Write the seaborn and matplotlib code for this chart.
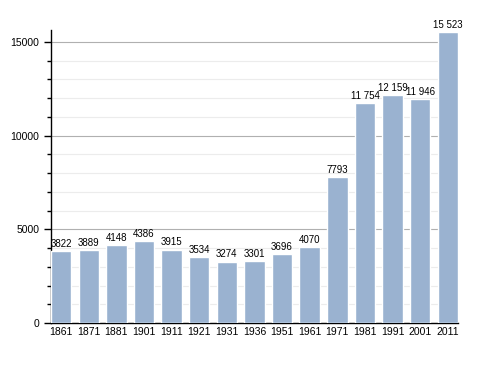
import matplotlib
matplotlib.use("Agg")
import matplotlib.pyplot as plt
from matplotlib.ticker import MultipleLocator
import pandas as pd
import seaborn as sns

# données de population par année de recensement
annees = ["1861", "1871", "1881", "1901", "1911", "1921", "1931", "1936",
          "1951", "1961", "1971", "1981", "1991", "2001", "2011"]
population = [3822, 3889, 4148, 4386, 3915, 3534, 3274, 3301,
              3696, 4070, 7793, 11754, 12159, 11946, 15523]
etiquettes = ["3822", "3889", "4148", "4386", "3915", "3534", "3274", "3301",
              "3696", "4070", "7793", "11 754", "12 159", "11 946", "15 523"]

df = pd.DataFrame({"annee": annees, "population": population})

sns.set_style("white")
plt.rcParams["font.family"] = ["Liberation Sans", "DejaVu Sans"]
plt.rcParams["text.color"] = "black"
plt.rcParams["xtick.color"] = "black"
plt.rcParams["ytick.color"] = "black"

fig = plt.figure(figsize=(4.88, 3.73), dpi=100)
ax = fig.add_axes([0.1045, 0.134, 0.834, 0.786])

sns.barplot(data=df, x="annee", y="population", color="#9ab2d0",
            width=0.74, saturation=1, ax=ax, zorder=3)

# grille: majeure tous les 5000, mineure tous les 1000
ax.yaxis.set_major_locator(MultipleLocator(5000))
ax.yaxis.set_minor_locator(MultipleLocator(1000))
ax.grid(axis="y", which="major", color="#b0b0b0", linewidth=0.8, zorder=0)
ax.grid(axis="y", which="minor", color="#ececec", linewidth=0.8, zorder=0)
ax.set_axisbelow(True)

ax.set_ylim(0, 15650)
ax.set_xlim(-0.37, 14.37)

for i, txt in enumerate(etiquettes):
    ax.text(i, population[i] + 120, txt, ha="center", va="bottom",
            fontsize=7, color="black", zorder=4)

ax.set_xlabel("")
ax.set_ylabel("")
ax.tick_params(axis="x", length=0, labelsize=7.5, pad=3, labelcolor="black")
ax.tick_params(axis="y", which="major", length=5, width=1, labelsize=7.5,
               direction="out", left=True, labelcolor="black")
ax.tick_params(axis="y", which="minor", length=3, width=1, direction="out", left=True)

for s in ["top", "right"]:
    ax.spines[s].set_visible(False)
for s in ["left", "bottom"]:
    ax.spines[s].set_color("black")
    ax.spines[s].set_linewidth(1)

fig.savefig("out.png", dpi=100)
